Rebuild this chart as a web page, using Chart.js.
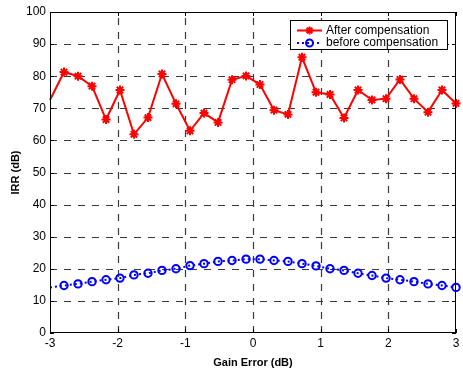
<!DOCTYPE html>
<html>
<head>
<meta charset="utf-8">
<script src="https://cdn.jsdelivr.net/npm/chart.js@4"></script>
<style>
  html, body { margin: 0; padding: 0; background: #fff; }
  #wrap { width: 463px; height: 368px; }
</style>
</head>
<body>
<div id="wrap"><canvas id="irr" width="463" height="368"></canvas></div>
<script>
// Gain error samples (dB)
const gainError = [-3.000, -2.793, -2.586, -2.379, -2.172, -1.966, -1.759, -1.552, -1.345, -1.138,
                   -0.931, -0.724, -0.517, -0.310, -0.103, 0.103, 0.310, 0.517, 0.724, 0.931,
                   1.138, 1.345, 1.552, 1.759, 1.966, 2.172, 2.379, 2.586, 2.793, 3.000];

// IRR after compensation (dB)
const afterComp = [72.6, 81.3, 80.0, 76.9, 66.5, 75.7, 61.9, 67.1, 80.7, 71.4,
                   63.0, 68.5, 65.6, 78.9, 80.1, 77.4, 69.4, 68.1, 85.9, 75.0,
                   74.3, 67.0, 75.7, 72.6, 73.0, 79.0, 73.0, 68.8, 75.7, 71.5];

// IRR before compensation (dB)
const beforeComp = [14.2, 14.8, 15.3, 16.0, 16.6, 17.1, 18.1, 18.6, 19.5, 20.0,
                    21.0, 21.6, 22.3, 22.6, 23.0, 23.0, 22.6, 22.3, 21.6, 20.9,
                    20.0, 19.5, 18.6, 17.9, 17.1, 16.6, 16.0, 15.3, 14.8, 14.2];

const seriesLabels = ['After compensation', 'before compensation'];
const xTickValues = [-3, -2, -1, 0, 1, 2, 3];

const FONT = 'Liberation Sans, Arial, Helvetica, sans-serif';

function toPoints(values) {
    return gainError.map((x, i) => ({ x: x, y: values[i] }));
}

// first sample sits on the axis edge and its marker is clipped in the original
const markerSize = (r) => gainError.map((x, i) => i === 0 ? 0 : r);

// dashed MATLAB-style grid under the data
const dashedGrid = {
    id: 'dashedGrid',
    beforeDatasetsDraw(chart) {
        const { ctx, chartArea: a, scales } = chart;
        ctx.save();
        ctx.strokeStyle = '#3a3a3a';
        ctx.lineWidth = 1.2;
        ctx.setLineDash([7, 7]);
        ctx.beginPath();
        scales.x.ticks.forEach(t => {
            if (t.value <= -3 || t.value >= 3) return;
            const px = Math.round(scales.x.getPixelForValue(t.value)) + 0.5;
            ctx.moveTo(px, a.bottom); ctx.lineTo(px, a.top);
        });
        scales.y.ticks.forEach(t => {
            if (t.value <= 0 || t.value >= 100) return;
            const py = Math.round(scales.y.getPixelForValue(t.value)) + 0.5;
            ctx.moveTo(a.left, py); ctx.lineTo(a.right, py);
        });
        ctx.stroke();
        ctx.restore();
    }
};

// box around the plot + small inward ticks
const axesBox = {
    id: 'axesBox',
    afterDatasetsDraw(chart) {
        const { ctx, chartArea: a, scales } = chart;
        ctx.save();
        ctx.strokeStyle = '#000';
        ctx.lineWidth = 1;
        ctx.setLineDash([]);
        ctx.strokeRect(a.left + 0.5, a.top + 0.5, a.right - a.left - 1, a.bottom - a.top - 1);
        ctx.beginPath();
        scales.x.ticks.forEach(t => {
            const px = Math.round(scales.x.getPixelForValue(t.value)) + 0.5;
            ctx.moveTo(px, a.bottom); ctx.lineTo(px, a.bottom - 4);
            ctx.moveTo(px, a.top); ctx.lineTo(px, a.top + 4);
        });
        scales.y.ticks.forEach(t => {
            const py = Math.round(scales.y.getPixelForValue(t.value)) + 0.5;
            ctx.moveTo(a.left, py); ctx.lineTo(a.left + 4, py);
            ctx.moveTo(a.right, py); ctx.lineTo(a.right - 4, py);
        });
        ctx.stroke();
        ctx.restore();
    }
};

// legend box drawn inside the axes (top right)
const insideLegend = {
    id: 'insideLegend',
    afterDraw(chart) {
        const ctx = chart.ctx;
        const x0 = 290, y0 = 20, w = 157, h = 29;
        ctx.save();
        ctx.fillStyle = '#fff';
        ctx.fillRect(x0, y0, w, h);
        ctx.strokeStyle = '#000';
        ctx.lineWidth = 1;
        ctx.strokeRect(x0 + 0.5, y0 + 0.5, w, h);
        const rows = [30.5, 43];
        chart.data.datasets.forEach((ds, i) => {
            const y = rows[i];
            ctx.strokeStyle = ds.borderColor;
            ctx.lineWidth = 2;
            ctx.setLineDash(ds.borderDash || []);
            ctx.beginPath();
            ctx.moveTo(297, y); ctx.lineTo(322, y);
            ctx.stroke();
            ctx.setLineDash([]);
            ctx.fillStyle = 'rgba(0,0,0,0)';
            Chart.helpers.drawPoint(ctx, {
                pointStyle: ds.pointStyle, radius: i === 0 ? 4 : 3.5, borderWidth: 2, rotation: 0
            }, 309.5, y);
            ctx.fillStyle = '#000';
            ctx.font = '12px ' + FONT;
            ctx.textBaseline = 'middle';
            ctx.fillText(ds.label, 326, y);
        });
        ctx.restore();
    }
};

const chartContext = document.getElementById('irr').getContext('2d');

const irrChart = new Chart(chartContext, {
    type: 'line',
    data: {
        datasets: [{
            label: seriesLabels[0],
            data: toPoints(afterComp),
            borderColor: '#ff0000',
            backgroundColor: 'rgba(0,0,0,0)',
            borderWidth: 2,
            pointStyle: 'star',
            pointRadius: markerSize(4.5),
            pointBorderWidth: 2,
            pointBorderColor: '#ff0000',
            tension: 0,
            clip: false
        }, {
            label: seriesLabels[1],
            data: toPoints(beforeComp),
            borderColor: '#0000ff',
            backgroundColor: 'rgba(0,0,0,0)',
            borderWidth: 2,
            borderDash: [2, 3],
            pointStyle: 'circle',
            pointRadius: markerSize(3.7),
            pointBorderWidth: 2,
            pointBorderColor: '#0000ff',
            pointBackgroundColor: 'rgba(0,0,0,0)',
            tension: 0,
            clip: false
        }]
    },
    options: {
        responsive: false,
        animation: false,
        layout: { padding: { top: 12, right: 7, left: 0, bottom: 0 } },
        plugins: {
            legend: { display: false },
            tooltip: { enabled: false }
        },
        scales: {
            x: {
                type: 'linear',
                min: -3,
                max: 3,
                afterBuildTicks: (scale) => { scale.ticks = xTickValues.map(v => ({ value: v })); },
                afterFit: (scale) => { scale.height = 35; },
                ticks: {
                    color: '#000',
                    padding: 3,
                    font: { family: FONT, size: 12 }
                },
                grid: { display: false, drawTicks: false },
                border: { display: false },
                title: {
                    display: true,
                    text: 'Gain Error (dB)',
                    color: '#000',
                    font: { family: FONT, size: 11, weight: 'bold' },
                    padding: { top: 0, bottom: -2 }
                }
            },
            y: {
                min: 0,
                max: 100,
                afterFit: (scale) => { scale.width = 50; },
                ticks: {
                    stepSize: 10,
                    color: '#000',
                    padding: 4,
                    font: { family: FONT, size: 12 }
                },
                grid: { display: false, drawTicks: false },
                border: { display: false },
                title: {
                    display: true,
                    text: 'IRR (dB)',
                    color: '#000',
                    font: { family: FONT, size: 11, weight: 'bold' },
                    padding: { top: 9, bottom: 0 }
                }
            }
        }
    },
    plugins: [dashedGrid, axesBox, insideLegend]
});
</script>
</body>
</html>
